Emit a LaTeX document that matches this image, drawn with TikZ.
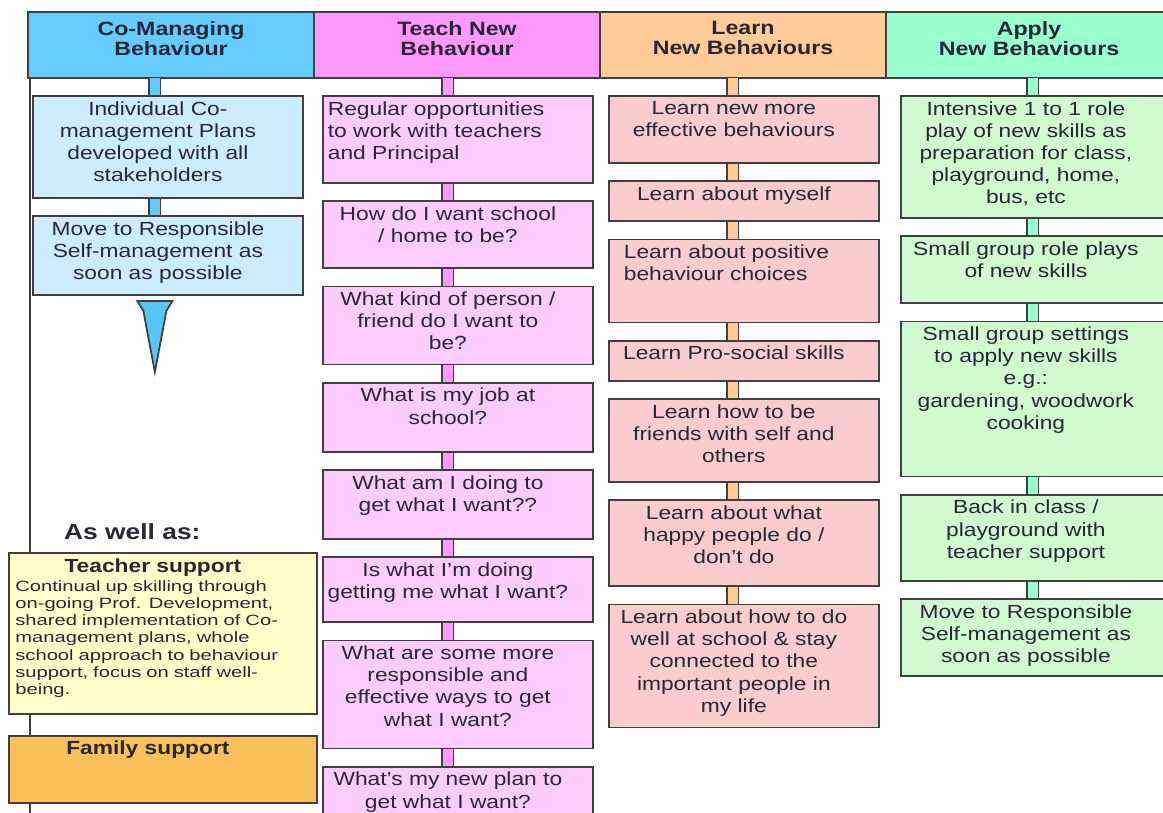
\documentclass[tikz,border=0pt]{standalone}
\usepackage{fontspec}
\setmainfont{Liberation Sans}[FakeStretch=1.2]
\newfontfamily\notefont{Liberation Sans}[FakeStretch=1.35]
\usetikzlibrary{positioning}
\definecolor{rim}{RGB}{64,64,64}
\definecolor{ink}{RGB}{40,40,52}
\definecolor{cmhead}{RGB}{102,204,255}
\definecolor{cmfill}{RGB}{204,236,255}
\definecolor{tnhead}{RGB}{255,153,255}
\definecolor{tnfill}{RGB}{255,204,255}
\definecolor{lnhead}{RGB}{255,204,153}
\definecolor{lnfill}{RGB}{250,204,204}
\definecolor{aphead}{RGB}{153,255,204}
\definecolor{apfill}{RGB}{208,250,208}
\definecolor{tsfill}{RGB}{255,255,204}
\definecolor{fsfill}{RGB}{250,192,90}
\definecolor{arrowblue}{RGB}{90,196,245}

\begin{document}
\begin{tikzpicture}[
    font=\fontsize{10.8}{12.6}\selectfont,
    node distance=0.33cm,
    head/.style={draw=rim,line width=1pt,outer sep=0pt,minimum width=5.72cm,minimum height=1.32cm},
    headtxt/.style={anchor=north,align=center,inner sep=0.18cm,text=ink,font=\bfseries\fontsize{11}{11.4}\selectfont},
    box/.style={draw=rim,line width=1pt,minimum width=5.4cm},
    cmbox/.style={box,fill=cmfill},
    tnbox/.style={box,fill=tnfill},
    lnbox/.style={box,fill=lnfill},
    apbox/.style={box,fill=apfill},
    txt/.style={anchor=north,align=center,text width=5.2cm,inner sep=0.12cm,xshift=-0.2cm,text=ink},
    note/.style={anchor=north,yshift=-0.56cm,align=left,text width=5.9cm,inner sep=0pt,text=ink,font=\notefont\fontsize{8.5}{9.8}\selectfont},
    boldtxt/.style={txt,xshift=0cm,font=\bfseries\fontsize{10.8}{12}\selectfont},
    conn/.style={draw=rim,line width=0.9pt,double=#1,double distance=0.2cm}
  ]
    \useasboundingbox (0,0) rectangle (23.26,-16.24);
    \clip (0,0) rectangle (23.26,-16.24);

    \node[head,fill=cmhead,anchor=north west,label={[headtxt]north:{Co-Managing\\Behaviour}}] (ha) at (0.56,-0.24) {};
    \node[head,fill=tnhead,right=0pt of ha,label={[headtxt]north:{Teach New\\Behaviour}}] (hb) {};
    \node[head,fill=lnhead,right=0pt of hb,label={[headtxt]north:{Learn\\New Behaviours}}] (hc) {};
    \node[head,fill=aphead,right=0pt of hc,label={[headtxt]north:{Apply\\New Behaviours}}] (hd) {};

    \coordinate (base) at (0.6,-16.5);
    \draw[rim,line width=1.2pt] (ha.south west -| base) -- (base);

    \node[cmbox,anchor=north west,minimum height=2.04cm,label={[txt]north:{Individual Co-\\management Plans\\developed with all\\stakeholders}}] (a1) at (0.64,-1.9) {};
    \node[cmbox,below=of a1,minimum height=1.58cm,label={[txt]north:{Move to Responsible\\Self-management as\\soon as possible}}] (a2) {};

    \node[tnbox,anchor=north west,minimum height=1.74cm,label={[txt,align=left,text width=4.8cm]north:{Regular opportunities\\ to work with teachers\\and Principal}}] (b1) at (6.44,-1.9) {};
    \node[tnbox,below=of b1,minimum height=1.34cm,label={[txt]north:{How do I want school\\/ home to be?}}] (b2) {};
    \node[tnbox,below=of b2,minimum height=1.56cm,label={[txt]north:{What kind of person /\\friend do I want to\\be?}}] (b3) {};
    \node[tnbox,below=of b3,minimum height=1.38cm,label={[txt]north:{What is my job at\\school?}}] (b4) {};
    \node[tnbox,below=of b4,minimum height=1.38cm,label={[txt]north:{What am I doing to\\get what I want??}}] (b5) {};
    \node[tnbox,below=of b5,minimum height=1.30cm,label={[txt]north:{Is what I'm doing\\getting me what I want?}}] (b6) {};
    \node[tnbox,below=of b6,minimum height=2.16cm,label={[txt]north:{What are some more\\responsible and\\effective ways to get\\what I want?}}] (b7) {};
    \node[tnbox,below=of b7,minimum height=1.8cm,label={[txt]north:{What's my new plan to\\get what I want?}}] (b8) {};

    \node[lnbox,anchor=north west,minimum height=1.34cm,label={[txt]north:{Learn new more\\effective behaviours}}] (c1) at (12.16,-1.9) {};
    \node[lnbox,below=of c1,minimum height=0.80cm,label={[txt]north:{Learn about myself}}] (c2) {};
    \node[lnbox,below=of c2,minimum height=1.66cm,label={[txt,align=left,text width=4.4cm]north:{Learn about positive\\behaviour choices}}] (c3) {};
    \node[lnbox,below=of c3,minimum height=0.80cm,label={[txt]north:{Learn Pro-social skills}}] (c4) {};
    \node[lnbox,below=of c4,minimum height=1.66cm,label={[txt]north:{Learn how to be\\friends with self and\\others}}] (c5) {};
    \node[lnbox,below=of c5,minimum height=1.72cm,label={[txt]north:{Learn about what\\happy people do /\\don't do}}] (c6) {};
    \node[lnbox,below=of c6,minimum height=2.46cm,label={[txt]north:{Learn about how to do\\well at school \& stay\\connected to the\\important people in\\my life}}] (c7) {};

    \node[apbox,anchor=north west,minimum height=2.44cm,label={[txt]north:{Intensive 1 to 1 role\\play of new skills as\\preparation for class,\\playground, home,\\bus, etc}}] (d1) at (18.0,-1.9) {};
    \node[apbox,below=of d1,minimum height=1.34cm,label={[txt]north:{Small group role plays\\of new skills}}] (d2) {};
    \node[apbox,below=of d2,minimum height=3.10cm,label={[txt]north:{Small group settings\\to apply new skills\\e.g.:\\gardening, woodwork\\cooking}}] (d3) {};
    \node[apbox,below=of d3,minimum height=1.72cm,label={[txt]north:{Back in class /\\playground with\\teacher support}}] (d4) {};
    \node[apbox,below=of d4,minimum height=1.54cm,label={[txt]north:{Move to Responsible\\Self-management as\\soon as possible}}] (d5) {};

    \node[font=\bfseries\fontsize{12.5}{14}\selectfont,text=ink,anchor=west] (also) at (1.16,-10.64) {As well as:};
    \node[box,fill=tsfill,anchor=north west,minimum width=6.16cm,minimum height=3.22cm,label={[boldtxt]north:Teacher support},label={[note]north:{Continual up skilling through\\on-going Prof. Development,\\shared implementation of Co-\\management plans, whole\\school approach to behaviour\\support, focus on staff well-\\being.}}] (ts) at (0.16,-11.04) {};
    \node[box,fill=fsfill,below=0.4cm of ts,minimum width=6.16cm,minimum height=1.34cm,label={[boldtxt,xshift=-0.1cm]north:Family support}] (fs) {};

    \foreach \cl/\tone/\dx/\nb in {a/cmhead/-0.26/1,b/tnhead/-0.2/7,c/lnhead/-0.22/6,d/aphead/-0.06/4}{
      \draw[conn=\tone] ([xshift=\dx cm]\cl1.north) -- ([xshift=\dx cm]\cl1.north |- h\cl.south);
      \foreach \i [count=\j from 2] in {1,...,\nb}
        \draw[conn=\tone] ([xshift=\dx cm]\cl\i.south) -- ([xshift=\dx cm]\cl\j.north);
    }
    \draw[rim,line width=1pt,fill=arrowblue] ([xshift=-0.26cm,yshift=-0.1cm]a2.south) ++(-0.35,0) -- ++(0.7,0) -- ++(-0.12,-0.2) -- ++(-0.23,-1.22) -- ++(-0.23,1.22) -- cycle;
  \end{tikzpicture}
\end{document}
